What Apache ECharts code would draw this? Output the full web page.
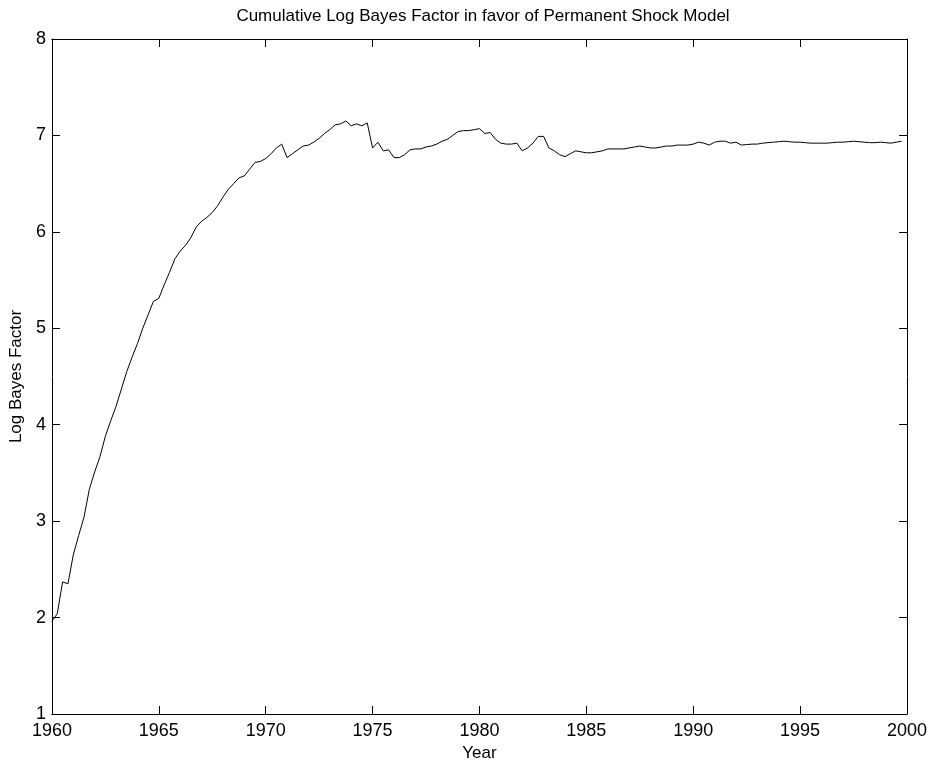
<!DOCTYPE html>
<html>
<head>
<meta charset="utf-8">
<script src="https://cdn.jsdelivr.net/npm/echarts@6/dist/echarts.min.js"></script>
<style>
html,body{margin:0;padding:0;background:#fff;}
#chart{width:933px;height:769px;}
</style>
</head>
<body>
<div id="chart"></div>
<script>
// Quarterly values, one array per decade (Q1..Q4 of each year)
var startYear = 1960;
var v1960s = [1.96,2.04,2.37,2.35, 2.65,2.85,3.04,3.33, 3.51,3.67,3.88,4.04, 4.19,4.37,4.55,4.70, 4.84,5.00,5.14,5.28,
              5.31,5.45,5.58,5.72, 5.80,5.86,5.94,6.05, 6.11,6.15,6.20,6.27, 6.36,6.44,6.50,6.56, 6.58,6.65,6.72,6.73];
var v1970s = [6.76,6.81,6.87,6.91, 6.77,6.81,6.85,6.89, 6.90,6.93,6.97,7.02, 7.06,7.11,7.12,7.15, 7.10,7.12,7.10,7.13,
              6.87,6.93,6.84,6.85, 6.77,6.77,6.80,6.85, 6.86,6.86,6.88,6.89, 6.91,6.94,6.96,7.00, 7.04,7.05,7.05,7.06];
var v1980s = [7.07,7.02,7.03,6.96, 6.92,6.91,6.91,6.92, 6.84,6.87,6.92,6.99, 6.99,6.87,6.84,6.80, 6.78,6.81,6.84,6.83,
              6.82,6.82,6.83,6.84, 6.86,6.86,6.86,6.86, 6.87,6.88,6.89,6.88, 6.87,6.87,6.88,6.89, 6.89,6.90,6.90,6.90];
var v1990s = [6.91,6.93,6.92,6.90, 6.93,6.94,6.94,6.92, 6.93,6.90,6.905,6.91, 6.91,6.92,6.925,6.93, 6.935,6.94,6.935,6.93,
              6.93,6.925,6.92,6.92, 6.92,6.92,6.925,6.93, 6.93,6.935,6.94,6.935, 6.93,6.925,6.925,6.93, 6.925,6.92,6.93,6.94];
var xTicks = [1960,1965,1970,1975,1980,1985,1990,1995,2000];
var yTicks = [1,2,3,4,5,6,7,8];

var allValues = v1960s.concat(v1970s, v1980s, v1990s);
var seriesData = allValues.map(function (v, i) { return [startYear + i / 4, v]; });

var font = '"Liberation Sans", Arial, Helvetica, sans-serif';
var black = '#000';
var chart = echarts.init(document.getElementById('chart'), null, {renderer: 'canvas'});

var xBase = {
  type: 'value', min: xTicks[0], max: xTicks[xTicks.length - 1], interval: 5,
  axisLine: {show: true, onZero: false, lineStyle: {color: black, width: 1}},
  axisTick: {show: true, inside: true, length: 8, lineStyle: {color: black, width: 1}},
  splitLine: {show: false}
};
var yBase = {
  type: 'value', min: yTicks[0], max: yTicks[yTicks.length - 1], interval: 1,
  axisLine: {show: true, onZero: false, lineStyle: {color: black, width: 1}},
  axisTick: {show: true, inside: true, length: 8, lineStyle: {color: black, width: 1}},
  splitLine: {show: false}
};

chart.setOption({
  animation: false,
  backgroundColor: '#fff',
  title: {
    text: 'Cumulative Log Bayes Factor in favor of Permanent Shock Model',
    left: 478, top: 3, textAlign: 'center',
    textStyle: {fontFamily: font, fontSize: 17, fontWeight: 'normal', color: black}
  },
  grid: {left: 49, right: 26, top: 39, bottom: 55, containLabel: false},
  xAxis: [
    Object.assign({}, xBase, {
      position: 'bottom',
      name: 'Year', nameLocation: 'middle', nameGap: 27,
      nameTextStyle: {fontFamily: font, fontSize: 17, color: black},
      axisLabel: {show: true, margin: 8, color: black, fontFamily: font, fontSize: 18,
                  formatter: function (v) { return String(v); }}
    }),
    Object.assign({}, xBase, {position: 'top', axisLabel: {show: false}})
  ],
  yAxis: [
    Object.assign({}, yBase, {
      position: 'left',
      name: 'Log Bayes Factor', nameLocation: 'middle', nameGap: 20,
      nameTextStyle: {fontFamily: font, fontSize: 17, color: black},
      axisLabel: {show: true, margin: 6, color: black, fontFamily: font, fontSize: 18}
    }),
    Object.assign({}, yBase, {position: 'right', axisLabel: {show: false}})
  ],
  series: [{
    type: 'line',
    xAxisIndex: 0, yAxisIndex: 0,
    data: seriesData,
    showSymbol: false, symbol: 'none',
    lineStyle: {color: black, width: 1},
    silent: true
  }]
});
</script>
</body>
</html>
